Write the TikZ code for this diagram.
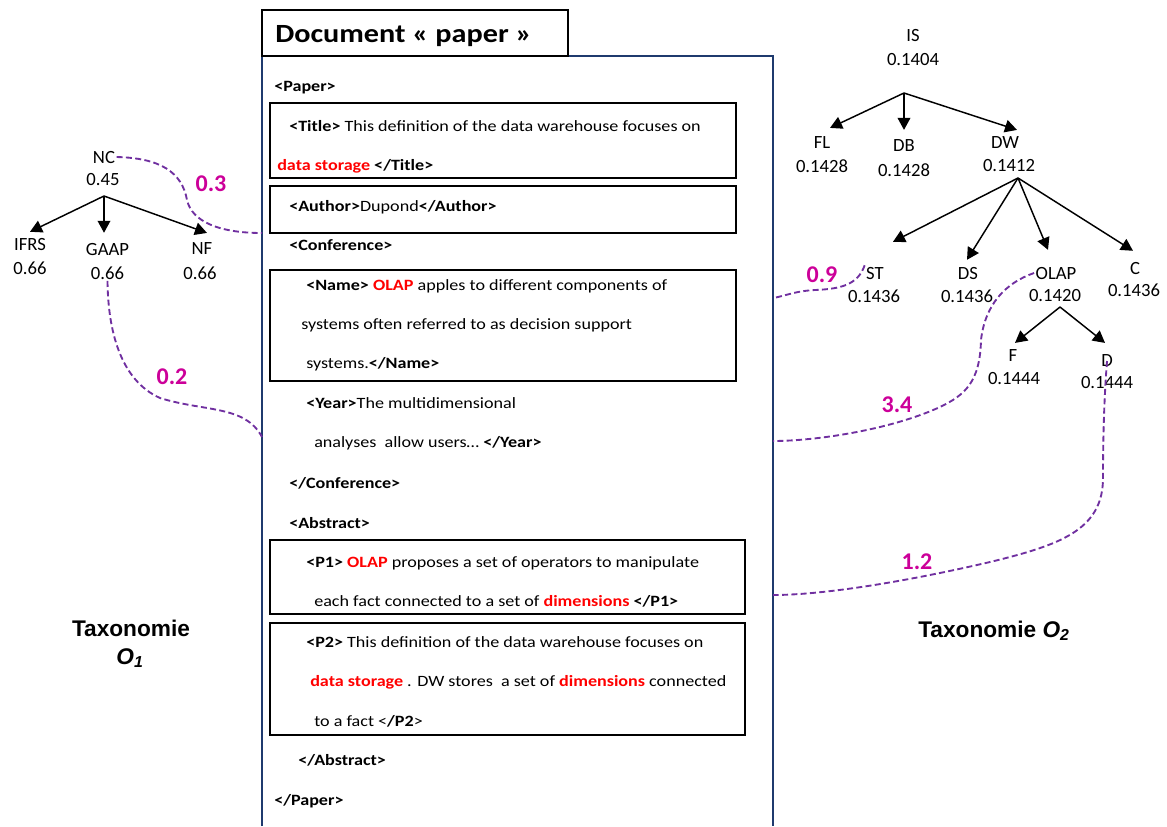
\documentclass[tikz,border=0pt]{standalone}
\usepackage{fontspec}
\setmainfont{Carlito}
\newfontfamily\docfont[FakeStretch=1.15]{Carlito}
\newfontfamily\arialfont{Liberation Sans}
\usetikzlibrary{arrows.meta}
\definecolor{navy}{HTML}{1F3A6E}
\definecolor{linkpurple}{HTML}{7030A0}
\definecolor{weightpink}{HTML}{CC0099}
\definecolor{hlred}{HTML}{FF0000}
\newcommand{\hlw}[1]{\textcolor{hlred}{\textbf{#1}}}

\begin{document}
\begin{tikzpicture}[x=0.75pt,y=-0.75pt,
  doctext/.style={inner sep=0pt,anchor=base west,font=\docfont\fontsize{11.8}{14}\selectfont},
  headtext/.style={inner sep=0pt,anchor=base west,font=\docfont\bfseries\fontsize{19.7}{22}\selectfont},
  tagbox/.style={draw=black,line width=1.5pt},
  docframe/.style={draw=navy,line width=1.5pt},
  tnode/.style={inner sep=1pt,font=\fontsize{14}{17}\selectfont},
  tarrow/.style={draw,line width=1.1pt,-{Triangle[length=9pt,width=9.5pt]}},
  link/.style={draw=linkpurple,line width=1.4pt,dash pattern=on 4.5pt off 2.5pt},
  weight/.style={text=weightpink,font=\fontsize{18}{20}\selectfont\bfseries,inner sep=0pt},
  taxo/.style={font=\arialfont\bfseries\fontsize{17}{20}\selectfont,inner sep=0pt,anchor=base}]

\useasboundingbox (0,0) rectangle (1167,826);

% document frame and title tab
\draw[docframe] (262,826) -- (262,56) -- (773,56) -- (773,826);
\draw[tagbox,fill=white] (262,10) rectangle (568,56);
\node[headtext] (head) at (275,42) {Document « paper »};

% element boxes
\draw[tagbox] (270,103) rectangle (736,178);
\draw[tagbox] (270,186) rectangle (736,233);
\draw[tagbox] (270,270) rectangle (736,381);
\draw[tagbox] (270,540) rectangle (745,614);
\draw[tagbox] (270,623) rectangle (745,735);

% XML content
\node[doctext] (l01) at (274,91) {\textbf{<Paper>}};
\node[doctext] (l02) at (289,131) {\textbf{<Title>} This definition of the data warehouse focuses on};
\node[doctext] (l03) at (277,170) {\hlw{data storage} \textbf{</Title>}};
\node[doctext] (l04) at (289,211) {\textbf{<Author>}Dupond\textbf{</Author>}};
\node[doctext] (l05) at (289,250) {\textbf{<Conference>}};
\node[doctext] (l06) at (306,290) {\textbf{<Name>} \hlw{OLAP} apples to different components of};
\node[doctext] (l07) at (301,329) {systems often referred to as decision support};
\node[doctext] (l08) at (306,368) {systems.\textbf{</Name>}};
\node[doctext] (l09) at (306,408) {\textbf{<Year>}The multidimensional};
\node[doctext] (l10) at (314,447) {analyses\ \ allow users… \textbf{</Year>}};
\node[doctext] (l11) at (289,488) {\textbf{</Conference>}};
\node[doctext] (l12) at (289,528) {\textbf{<Abstract>}};
\node[doctext] (l13) at (306,567) {\textbf{<P1>} \hlw{OLAP} proposes a set of operators to manipulate};
\node[doctext] (l14) at (314,606) {each fact connected to a set of \hlw{dimensions} \textbf{</P1>}};
\node[doctext] (l15) at (306,647) {\textbf{<P2>} This definition of the data warehouse focuses on};
\node[doctext] (l16) at (310,686) {\hlw{data storage} . DW stores\ \ a set of \hlw{dimensions} connected};
\node[doctext] (l17) at (314,726) {to a fact <\textbf{/P2}>};
\node[doctext] (l18) at (298,765) {\textbf{</Abstract>}};
\node[doctext] (l19) at (274,805) {\textbf{</Paper>}};

% taxonomy O1
\node[tnode] (nc) at (104,157) {NC};
\node[tnode] (ncv) at (103,180) {0.45};
\node[tnode] (ifrs) at (30,244) {IFRS};
\node[tnode] (ifrsv) at (30,268) {0.66};
\node[tnode] (gaap) at (107.5,249) {GAAP};
\node[tnode] (gaapv) at (107.5,273) {0.66};
\node[tnode] (nf) at (202,249) {NF};
\node[tnode] (nfv) at (200,273) {0.66};
\coordinate (ncfork) at (104,196);
\draw[tarrow] (ncfork) -- ([shift={(0,-4.5)}]ifrs.north);
\draw[tarrow] (ncfork) -- ([shift={(-3.5,-8.5)}]gaap.north);
\draw[tarrow] (ncfork) -- ([shift={(5,-8.5)}]nf.north);

% taxonomy O2
\node[tnode] (is) at (913,36) {IS};
\node[tnode] (isv) at (913,60) {0.1404};
\node[tnode] (fl) at (822,143) {FL};
\node[tnode] (flv) at (822,166) {0.1428};
\node[tnode] (db) at (904,146) {DB};
\node[tnode] (dbv) at (904,170) {0.1428};
\node[tnode] (dw) at (1005,143) {DW};
\node[tnode] (dwv) at (1009,166) {0.1412};
\node[tnode] (st) at (875,273) {ST};
\node[tnode] (stv) at (874,296) {0.1436};
\node[tnode] (ds) at (968,273) {DS};
\node[tnode] (dsv) at (967,296) {0.1436};
\node[tnode] (olap) at (1056,273) {OLAP};
\node[tnode] (olapv) at (1055,296) {0.1420};
\node[tnode] (c) at (1135,268) {C};
\node[tnode] (cv) at (1134,290) {0.1436};
\node[tnode] (f) at (1013,356) {F};
\node[tnode] (fv) at (1014,379) {0.1444};
\node[tnode] (d) at (1107,361) {D};
\node[tnode] (dv) at (1107,383) {0.1444};

\coordinate (isfork) at (904,93);
\coordinate (dwfork) at (1018,178);
\coordinate (olapfork) at (1060,307);
\draw[tarrow] (isfork) -- ([shift={(8,-7.5)}]fl.north);
\draw[tarrow] (isfork) -- ([shift={(0,-8.5)}]db.north);
\draw[tarrow] (isfork) -- ([shift={(12,-5.5)}]dw.north);
\draw[tarrow] (dwfork) -- ([shift={(18,-23.5)}]st.north);
\draw[tarrow] (dwfork) -- ([shift={(-1,-5.5)}]ds.north);
\draw[tarrow] (dwfork) -- ([shift={(-8,-15.5)}]olap.north);
\draw[tarrow] (dwfork) -- ([shift={(-2,-9.5)}]c.north);
\draw[tarrow] (olapfork) -- ([shift={(2,-5.5)}]f.north);
\draw[tarrow] (olapfork) -- ([shift={(-2,-10.5)}]d.north);

% links between concepts and document elements
\coordinate (f03) at (262,233);
\coordinate (f02) at (262,437);
\coordinate (f09) at (773,298);
\coordinate (f34) at (773,441);
\coordinate (f12) at (773,595);

\draw[link] (nc.east) .. controls (160,158) and (182,172) .. (187,200)
  .. controls (192,222) and (220,233) .. (f03);
\draw[link] (gaapv.south) .. controls (108,330) and (120,380) .. (160,398)
  .. controls (205,412) and (245,405) .. (f02);
\draw[link] (st.north west) .. controls (858,285) and (840,289) .. (815,290)
  .. controls (795,291) and (785,296) .. (f09);
\draw[link] (olap.west) .. controls (1005,283) and (985,305) .. (981,340)
  .. controls (980,382) and (965,395) .. (940,407)
  .. controls (890,430) and (815,441) .. (f34);
\draw[link] (d.center) .. controls (1104,400) and (1103,440) .. (1103,478)
  .. controls (1103,530) and (1060,545) .. (990,562)
  .. controls (900,583) and (820,595) .. (f12);

\node[weight] (w03) at (211,184) {0.3};
\node[weight] (w02) at (172,377) {0.2};
\node[weight] (w09) at (822,275) {0.9};
\node[weight] (w34) at (897,405) {3.4};
\node[weight] (w12) at (917,562) {1.2};

% taxonomy captions
\node[taxo] (cap1a) at (131,636) {Taxonomie};
\node[taxo] (cap1b) at (130,664) {\textit{O}\textsubscript{\textit{1}}};
\node[taxo,anchor=base west] (cap2) at (918,637) {Taxonomie \textit{O}\textsubscript{\textit{2}}};

\end{tikzpicture}
\end{document}
